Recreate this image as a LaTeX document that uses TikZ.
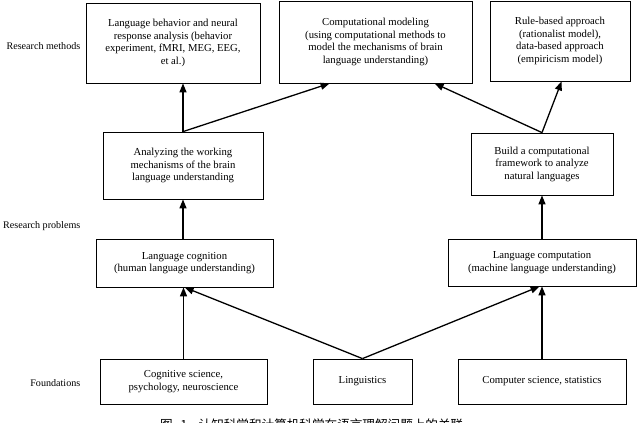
\documentclass[tikz,border=0pt]{standalone}
\usepackage{fontspec}
\setmainfont{Liberation Serif}
\newfontfamily\cjkfont{Noto Sans CJK SC}
\usetikzlibrary{arrows.meta}
\tikzset{
  box/.style={draw, line width=0.8pt, inner sep=0pt, align=center,
    font=\fontsize{10.7}{12.5}\selectfont},
  lbl/.style={anchor=east, inner sep=0pt, font=\fontsize{10.1}{12}\selectfont},
  arr/.style={line width=1.3pt, -{Triangle[length=9pt,width=7pt]}},
  seg/.style={line width=1.3pt}
}
\begin{document}
\begin{tikzpicture}[x=1pt,y=-1pt]
\path[use as bounding box, fill=white] (0,0) rectangle (640,423);

% Research methods
\node[box, minimum width=174pt, minimum height=80pt] (A) at (173,43)
  {Language behavior and neural\\response analysis (behavior\\experiment, fMRI, MEG, EEG,\\et al.)};
\node[box, minimum width=193pt, minimum height=82pt] (B) at (375.5,42)
  {Computational modeling\\(using computational methods to\\model the mechanisms of brain\\language understanding)};
\node[box, minimum width=140pt, minimum height=80pt] (C) at (560,41)
  {Rule-based approach\\(rationalist model),\\data-based approach\\(empiricism model)};

% middle
\node[box, minimum width=160pt, minimum height=67pt] (D) at (183,165.5)
  {Analyzing the working\\mechanisms of the brain\\language understanding};
\node[box, minimum width=142pt, minimum height=62pt] (E) at (542,164)
  {Build a computational\\framework to analyze\\natural languages};

% Research problems
\node[box, minimum width=177pt, minimum height=48pt] (F) at (184.5,263)
  {Language cognition\\(human language understanding)};
\node[box, minimum width=188pt, minimum height=47pt] (H) at (542,262.5)
  {Language computation\\(machine language understanding)};

% Foundations
\node[box, minimum width=167pt, minimum height=45pt] (G) at (183.5,381.5)
  {Cognitive science,\\psychology, neuroscience};
\node[box, minimum width=99pt, minimum height=45pt] (I) at (362.5,381.5)
  {Linguistics};
\node[box, minimum width=168pt, minimum height=45pt] (J) at (542,381.5)
  {Computer science, statistics};

% row labels
\node[lbl] (l1) at (80.5,46) {Research methods};
\node[lbl] (l2) at (80.5,226) {Research problems};
\node[lbl] (l3) at (80.5,383) {Foundations};

% connectors
\coordinate (Dtop) at (D.north);
\draw[arr] (Dtop) -- (Dtop |- A.south);
\draw[arr] (Dtop) -- ([xshift=51pt]B.south west);
\draw[arr] (E.north) -- ([xshift=156pt]B.south west);
\draw[arr] (E.north) -- ([xshift=72pt]C.south west);
\draw[arr] (D.south |- F.north) -- (D.south);
\draw[arr] (H.north) -- (E.south);
\draw[arr] (G.north) -- (G.north |- F.south);
\draw[arr] (I.north) -- ([xshift=89pt]F.south west);
\draw[arr] (I.north) -- ([xshift=92pt]H.south west);
\draw[arr] (J.north) -- (H.south);

% caption (cut off at the lower edge)
\node[anchor=base west, inner sep=0pt, font=\cjkfont\fontsize{12.6}{14}\selectfont] (cap) at (160,429.5)
  {图\hspace{0.6em}1\hspace{0.9em}认知科学和计算机科学在语言理解问题上的关联};
\end{tikzpicture}
\end{document}
